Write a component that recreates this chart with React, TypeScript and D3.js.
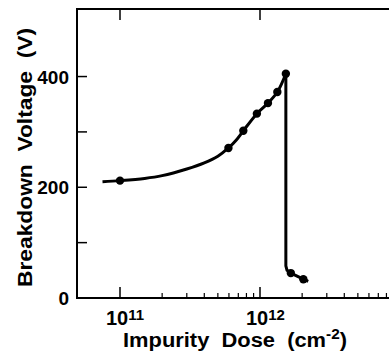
import React from "react";
import * as d3 from "d3";

const curveDose = [7.5e10, 1e11, 1.5e11, 2e11, 3e11, 4e11, 5e11, 5.95e11, 6.8e11, 7.6e11, 9.5e11, 1.14e12, 1.33e12, 1.53e12];
const curveVolt = [210, 212, 216, 221, 233, 244, 256, 271, 286, 302, 333, 352, 372, 405];
const dropDose = [1.53e12, 1.53e12, 1.56e12, 1.66e12, 2.04e12, 2.21e12];
const dropVolt = [405, 58, 50, 45, 34, 30];
const markDose = [1e11, 5.95e11, 7.6e11, 9.5e11, 1.14e12, 1.33e12, 1.53e12, 1.66e12, 2.04e12];
const markVolt = [212, 271, 302, 333, 352, 372, 405, 45, 34];
const yMajor = [0, 200, 400];
const yMinor = [100, 300];
const xMajorExp = [11, 12];
const xMinor = [2e11, 3e11, 4e11, 5e11, 6e11, 7e11, 8e11, 9e11, 2e12, 3e12, 4e12, 5e12, 6e12, 7e12, 8e12, 9e12];

export default function App() {
  const W = 389, H = 356;
  const left = 77, top = 9, bottom = 298;
  const x = d3.scaleLog().domain([Math.pow(10, 11 - 43 / 140), Math.pow(10, 12 + 131 / 140)]).range([left, 391]);
  const y = d3.scaleLinear().domain([0, 522]).range([bottom, top]);
  const cPath = d3.line<[number, number]>().x(d => x(d[0])).y(d => y(d[1])).curve(d3.curveCatmullRom.alpha(0.5))(curveDose.map((d, i) => [d, curveVolt[i]] as [number, number]));
  const dPath = d3.line<[number, number]>().x(d => x(d[0])).y(d => y(d[1])).curve(d3.curveLinear)(dropDose.map((d, i) => [d, dropVolt[i]] as [number, number]));
  const font = "'Liberation Sans', Arial, Helvetica, sans-serif";
  return (
    <svg width={W} height={H} style={{ position: "absolute", left: 0, top: 0, background: "#fff" }} fontFamily={font} fontWeight="bold">
      <line x1={left} x2={left} y1={top} y2={bottom + 1} stroke="#000" strokeWidth={2} />
      <line x1={left - 1} x2={W} y1={bottom} y2={bottom} stroke="#000" strokeWidth={2} />
      <line x1={left - 1} x2={W} y1={top} y2={top} stroke="#000" strokeWidth={2} />
      {yMajor.concat(yMinor).filter(v => v > 0).map(v => (
        <line key={"yt" + v} x1={left} x2={left + 10} y1={y(v)} y2={y(v)} stroke="#000" strokeWidth={1.5} />
      ))}
      {yMajor.map(v => (
        <text key={"yl" + v} x={69} y={y(v) + 7} textAnchor="end" fontSize={19}>{v}</text>
      ))}
      {xMajorExp.map(e => (
        <g key={"xm" + e}>
          <line x1={x(Math.pow(10, e))} x2={x(Math.pow(10, e))} y1={bottom} y2={bottom - 11} stroke="#000" strokeWidth={1.5} />
          <line x1={x(Math.pow(10, e))} x2={x(Math.pow(10, e))} y1={top} y2={top + 11} stroke="#000" strokeWidth={1.5} />
          <text x={x(Math.pow(10, e)) - 14} y={325} fontSize={20}>10<tspan fontSize={15} dy={-5}>{e}</tspan></text>
        </g>
      ))}
      {xMinor.map(v => (
        <line key={"xn" + v} x1={x(v)} x2={x(v)} y1={bottom} y2={bottom - 5} stroke="#000" strokeWidth={1.2} />
      ))}
      <text x={123} y={347} fontSize={20} textLength={224} lengthAdjust="spacingAndGlyphs" style={{ whiteSpace: "pre" }}>
        {"Impurity  Dose  (cm"}<tspan fontSize={14} dy={-8}>-2</tspan><tspan dy={8}>)</tspan>
      </text>
      <text transform="translate(32,287) rotate(-90)" fontSize={20} textLength={259} lengthAdjust="spacingAndGlyphs" style={{ whiteSpace: "pre" }}>
        {"Breakdown  Voltage  (V)"}
      </text>
      <path d={cPath || ""} fill="none" stroke="#000" strokeWidth={3} />
      <path d={dPath || ""} fill="none" stroke="#000" strokeWidth={3} strokeLinejoin="round" />
      {markDose.map((d, i) => (
        <circle key={"m" + i} cx={x(d)} cy={y(markVolt[i])} r={4.2} fill="#000" />
      ))}
    </svg>
  );
}
